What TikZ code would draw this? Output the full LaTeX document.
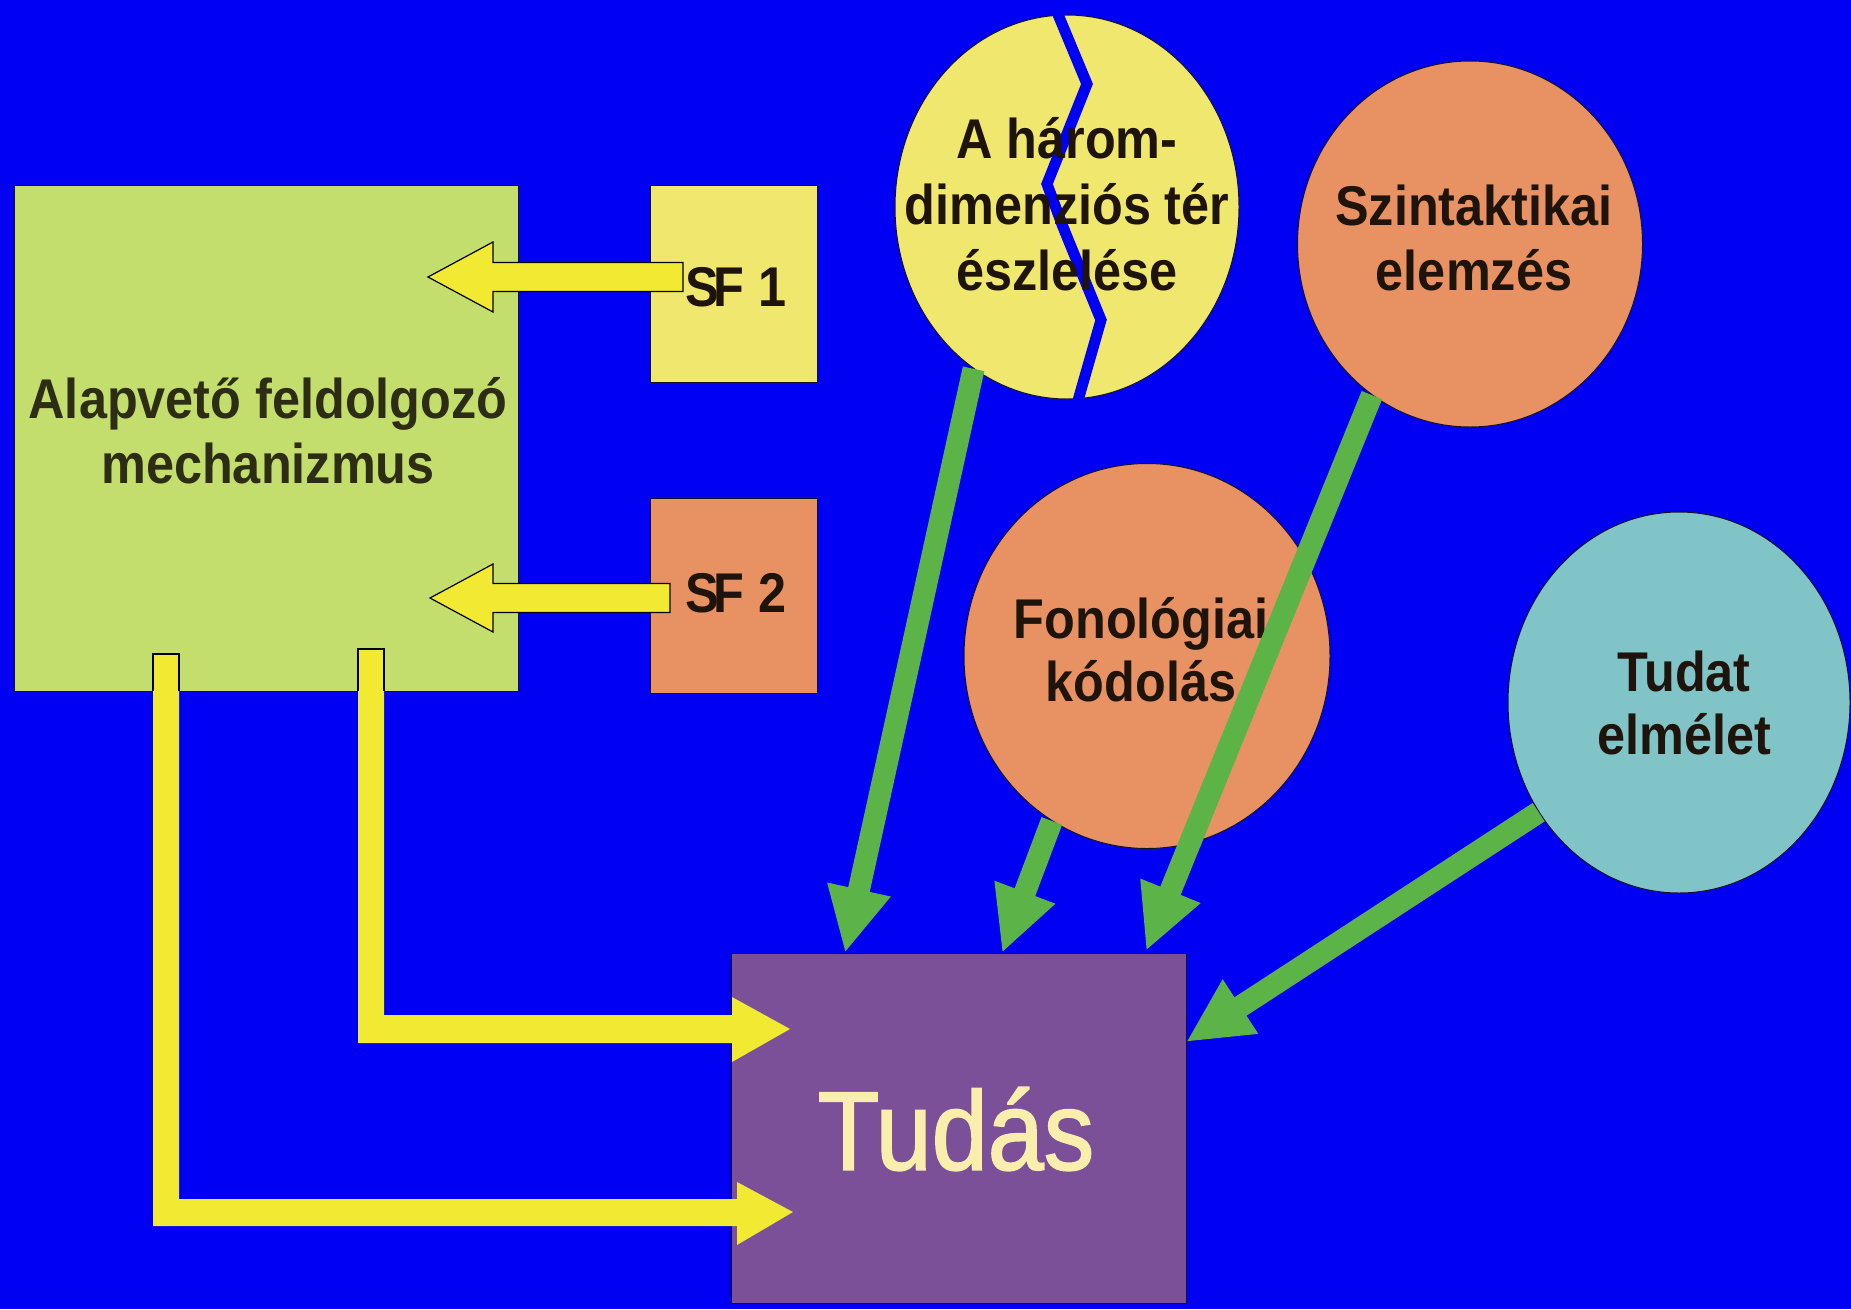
\documentclass[tikz,border=0pt]{standalone}
\usepackage{fontspec}
\setmainfont{Liberation Sans}[FakeStretch=0.9]
\newfontfamily\tudasfont{Liberation Sans}[FakeStretch=0.9,FakeBold=1.5]
\usetikzlibrary{shapes.geometric,arrows.meta,calc}
\definecolor{bgblue}{RGB}{0,0,242}
\definecolor{boxgreen}{RGB}{196,222,110}
\definecolor{paleyellow}{RGB}{240,232,110}
\definecolor{salmon}{RGB}{232,146,100}
\definecolor{cteal}{RGB}{128,196,200}
\definecolor{tudaspurple}{RGB}{124,80,152}
\definecolor{arrowyellow}{RGB}{242,234,50}
\definecolor{arrowgreen}{RGB}{92,180,72}
\definecolor{txtdark}{RGB}{30,20,12}
\definecolor{txtolive}{RGB}{45,45,22}
\definecolor{cream}{RGB}{250,238,172}
\definecolor{edge}{RGB}{20,20,40}
\begin{document}
\begin{tikzpicture}[x=1pt,y=-1pt,
  rectbox/.style={rectangle, draw=edge, line width=0.8pt, inner sep=0pt},
  oval/.style={ellipse, draw=edge, line width=1pt, inner sep=0pt},
  lbl/.style={font=\bfseries\fontsize{56}{65}\selectfont, text=txtdark, align=center, inner sep=0pt},
  greenarrow/.style={draw=arrowgreen, line width=22pt, -{Triangle[width=60pt,length=65pt]}},
  blockarrow/.style={fill=arrowyellow, draw=black, line width=1.2pt, line join=miter},
  lshape/.style={fill=arrowyellow},
  lcap/.style={draw=black, line width=1.2pt, line join=miter}]
\fill[bgblue] (0,0) rectangle (1851,1309);
\useasboundingbox (0,0) rectangle (1851,1309);

% left boxes
\node[rectbox, fill=boxgreen, minimum width=504pt, minimum height=506pt] (alap) at (266,438) {};
\node[rectbox, fill=paleyellow, minimum width=167pt, minimum height=197pt] (sf1) at (733.5,283.5) {};
\node[rectbox, fill=salmon, minimum width=167pt, minimum height=195pt] (sf2) at (733.5,595.5) {};

% block arrows SF -> Alap
\coordinate (sf1tip) at (428,277);
\coordinate (sf2tip) at (430,598);
\begin{scope}[shift={(sf1tip)}]
  \draw[blockarrow] (0,0) -- (65,-35) -- (65,-14.5) -- (255,-14.5) -- (255,14.5) -- (65,14.5) -- (65,35) -- cycle;
\end{scope}
\begin{scope}[shift={(sf2tip)}]
  \draw[blockarrow] (0,0) -- (63,-34) -- (63,-14.5) -- (240,-14.5) -- (240,14.5) -- (63,14.5) -- (63,34) -- cycle;
\end{scope}

\node[lbl, text=txtolive] (alaptxt) at (268,431) {Alapvető feldolgozó\\mechanizmus};
\node[lbl] (sf1txt) at (736,287) {S\kern-6pt F 1};
\node[lbl] (sf2txt) at (736,593) {S\kern-6pt F 2};

% Tudas box
\node[rectbox, fill=tudaspurple, minimum width=455pt, minimum height=350pt] (tudas) at (958.5,1128) {};

% yellow L arrows
\fill[lshape] (358,649) -- (384,649) -- (384,1015) -- (732,1015) -- (732,997) -- (790,1029) -- (732,1062) -- (732,1043) -- (358,1043) -- cycle;
\draw[lcap] (358,691) -- (358,649) -- (384,649) -- (384,691);
\fill[lshape] (153,654) -- (179,654) -- (179,1199) -- (737,1199) -- (737,1182) -- (793,1212) -- (737,1245) -- (737,1226) -- (153,1226) -- cycle;
\draw[lcap] (153,691) -- (153,654) -- (179,654) -- (179,691);

\node[font=\tudasfont\fontsize{112}{112}\selectfont, text=cream, inner sep=0pt] (tudastxt) at (956,1129) {Tudás};

% circles
\node[oval, fill=paleyellow, minimum width=344pt, minimum height=384pt] (harom) at (1067,207) {};
\draw[bgblue, line width=11pt, line join=miter] (1057,12) -- (1087,84) -- (1047,184) -- (1063,227) -- (1101,320) -- (1077,404);
\node[oval, fill=salmon, minimum width=345pt, minimum height=366pt] (szint) at (1470,244) {};
\node[oval, fill=salmon, minimum width=366pt, minimum height=385pt] (fono) at (1147,656) {};
\node[oval, fill=cteal, minimum width=342pt, minimum height=381pt] (tudat) at (1679,702.5) {};

\node[lbl, font=\bfseries\fontsize{56}{66}\selectfont] (haromtxt) at (1067,204) {A három-\\dimenziós tér\\észlelése};
\node[lbl] (szinttxt) at (1474,237.5) {Szintaktikai\\elemzés};
\node[lbl, font=\bfseries\fontsize{56}{63}\selectfont] (fonotxt) at (1141,649.5) {Fonológiai\\kódolás};
\node[lbl, font=\bfseries\fontsize{56}{63}\selectfont] (tudattxt) at (1684,702.5) {Tudat\\elmélet};

% green arrows into Tudas
\coordinate (t1) at (845,953);
\coordinate (t2) at (1002,953);
\coordinate (t3) at (1146,951);
\coordinate (t4) at (1186,1042);
\draw[greenarrow] (harom.240) -- (t1);
\draw[greenarrow] (fono.240) -- (t2);
\draw[greenarrow] (szint.237) -- (t3);
\draw[greenarrow] (tudat.218) -- (t4);
\end{tikzpicture}
\end{document}
